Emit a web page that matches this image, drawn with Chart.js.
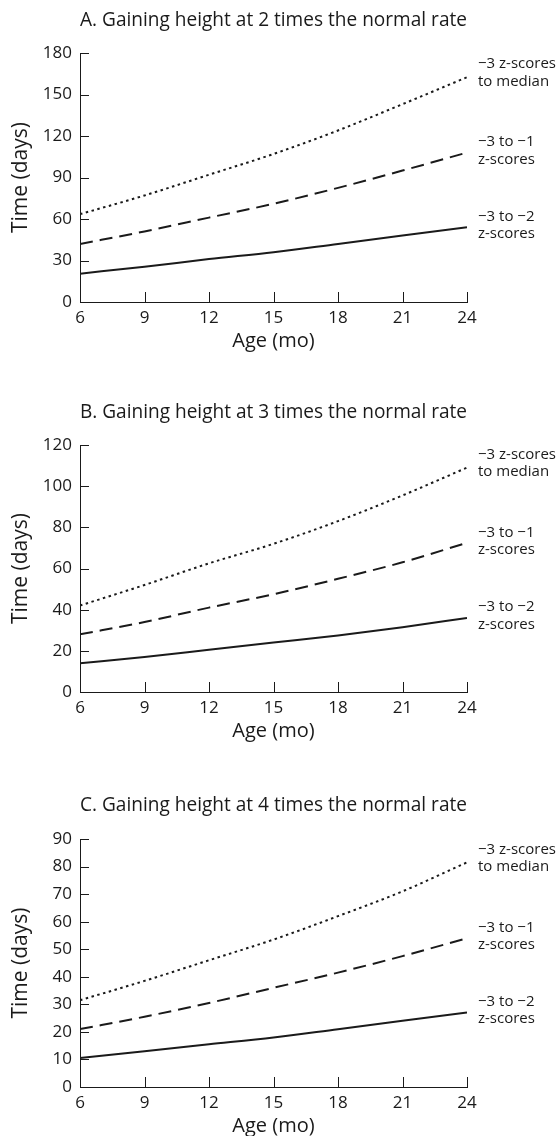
<!DOCTYPE html>
<html lang="en">
<head>
    <meta charset="UTF-8">
    <title>Time to catch up in height</title>
    <style>
        body {
            margin: 0;
            background: #fff;
            width: 559px;
            height: 1136px;
            overflow: hidden;
            position: relative;
        }
        .panel {
            position: absolute;
            left: 0;
        }
    </style>
    <script src="https://cdn.jsdelivr.net/npm/chart.js"></script>
</head>
<body>
    <div class="panel" id="panelA"><canvas id="chartA" width="559" height="358"></canvas></div>
    <div class="panel" id="panelB"><canvas id="chartB" width="559" height="356"></canvas></div>
    <div class="panel" id="panelC"><canvas id="chartC" width="559" height="358"></canvas></div>

    <script>
        // values
        const months = [6, 9, 12, 15, 18, 21, 24];

        const aSolid  = [20.5, 25.5, 31, 36, 42, 48, 54];
        const aDashed = [42, 51, 61, 71, 82.5, 95, 108];
        const aDotted = [63.5, 77, 92, 107, 124, 143, 162.5];

        const bSolid  = [14, 17, 20.5, 24, 27.5, 31.5, 36];
        const bDashed = [28, 34, 41, 47.5, 55, 63, 72.5];
        const bDotted = [42, 52, 62.5, 72, 83, 95.5, 109];

        const cSolid  = [10.5, 13, 15.5, 18, 21, 24, 27];
        const cDashed = [21, 25.5, 30.5, 36, 41.5, 47.5, 54];
        const cDotted = [31.5, 38.5, 46, 53.5, 62, 71, 81.5];

        const panelTitles = [
            'A. Gaining height at 2 times the normal rate',
            'B. Gaining height at 3 times the normal rate',
            'C. Gaining height at 4 times the normal rate'
        ];
        const yMaxes = [180, 120, 90];
        const ySteps = [30, 20, 10];

        const dottedLabel = ['\u22123 z-scores', 'to median'];
        const dashedLabel = ['\u22123 to \u22121', 'z-scores'];
        const solidLabel  = ['\u22123 to \u22122', 'z-scores'];

        const FONT = '"Open Sans", "DejaVu Sans", sans-serif';
        const INK = '#1a1a1a';

        // short ticks drawn inward from the axes
        const innerTicks = {
            id: 'innerTicks',
            afterDraw(chart) {
                const ctx = chart.ctx;
                const xs = chart.scales.x, ys = chart.scales.y;
                const area = chart.chartArea;
                ctx.save();
                ctx.strokeStyle = INK;
                ctx.lineWidth = 1;
                ctx.beginPath();
                ys.ticks.forEach(t => {
                    if (t.value === ys.min) return;
                    const y = Math.round(ys.getPixelForValue(t.value)) + 0.5;
                    ctx.moveTo(area.left, y);
                    ctx.lineTo(area.left + 9, y);
                });
                xs.ticks.forEach(t => {
                    if (t.value === xs.min) return;
                    const x = Math.round(xs.getPixelForValue(t.value)) + 0.5;
                    ctx.moveTo(x, area.bottom);
                    ctx.lineTo(x, area.bottom - 10);
                });
                ctx.stroke();
                ctx.restore();
            }
        };

        // two-line labels at the right end of each curve
        const endLabels = {
            id: 'endLabels',
            afterDatasetsDraw(chart) {
                const ctx = chart.ctx;
                const ys = chart.scales.y;
                ctx.save();
                ctx.font = '15px ' + FONT;
                ctx.fillStyle = INK;
                ctx.textAlign = 'left';
                ctx.textBaseline = 'middle';
                chart.data.datasets.forEach(ds => {
                    const last = ds.data[ds.data.length - 1];
                    const y = ys.getPixelForValue(last.y);
                    const x = chart.chartArea.right + 11;
                    const up = ds.endLabelUp;
                    ctx.fillText(ds.endLabel[0], x, y - up);
                    ctx.fillText(ds.endLabel[1], x, y - up + 17.5);
                });
                ctx.restore();
            }
        };

        function points(values) {
            return months.map((m, i) => ({ x: m, y: values[i] }));
        }

        function makeChart(id, idx, solid, dashed, dotted, titleGap) {
            const base = {
                borderColor: INK,
                borderWidth: 2,
                pointRadius: 0,
                fill: false,
                cubicInterpolationMode: 'monotone',
                borderCapStyle: 'butt'
            };
            return new Chart(document.getElementById(id), {
                type: 'line',
                data: {
                    datasets: [
                        Object.assign({}, base, { data: points(dotted), borderDash: [2.5, 3.5], endLabel: dottedLabel, endLabelUp: 13 }),
                        Object.assign({}, base, { data: points(dashed), borderDash: [13, 7], endLabel: dashedLabel, endLabelUp: 10.5 }),
                        Object.assign({}, base, { data: points(solid), endLabel: solidLabel, endLabelUp: 11 })
                    ]
                },
                options: {
                    responsive: false,
                    animation: false,
                    layout: { padding: { left: 0, right: 92, top: 0, bottom: 0 } },
                    plugins: {
                        legend: { display: false },
                        tooltip: { enabled: false },
                        title: {
                            display: true,
                            fullSize: false,
                            text: panelTitles[idx],
                            color: INK,
                            font: { family: FONT, size: 20, weight: 'normal' },
                            padding: { top: 8, bottom: titleGap }
                        }
                    },
                    scales: {
                        x: {
                            type: 'linear',
                            min: 6,
                            max: 24,
                            afterFit: s => { s.height = 56; },
                            grid: { display: true, drawOnChartArea: false, drawTicks: false },
                            border: { display: true, color: INK, width: 1 },
                            ticks: {
                                stepSize: 3,
                                padding: 5.5,
                                color: INK,
                                font: { family: FONT, size: 17 }
                            },
                            title: {
                                display: true,
                                text: 'Age (mo)',
                                color: INK,
                                font: { family: FONT, size: 20 },
                                padding: { top: 0, bottom: 4.3 }
                            }
                        },
                        y: {
                            min: 0,
                            max: yMaxes[idx],
                            afterFit: s => { s.width = 80; },
                            grid: { display: true, drawOnChartArea: false, drawTicks: false },
                            border: { display: true, color: INK, width: 1 },
                            ticks: {
                                stepSize: ySteps[idx],
                                padding: 8,
                                color: INK,
                                font: { family: FONT, size: 17 }
                            },
                            title: {
                                display: true,
                                text: 'Time (days)',
                                color: INK,
                                font: { family: FONT, size: 21 },
                                padding: { top: 8, bottom: 0 }
                            }
                        }
                    }
                },
                plugins: [innerTicks, endLabels]
            });
        }

        document.getElementById('panelA').style.top = '0px';
        document.getElementById('panelB').style.top = '392px';
        document.getElementById('panelC').style.top = '785px';

        makeChart('chartA', 0, aSolid, aDashed, aDotted, 21);
        makeChart('chartB', 1, bSolid, bDashed, bDotted, 21);
        makeChart('chartC', 2, cSolid, cDashed, cDotted, 22);
    </script>
</body>
</html>
